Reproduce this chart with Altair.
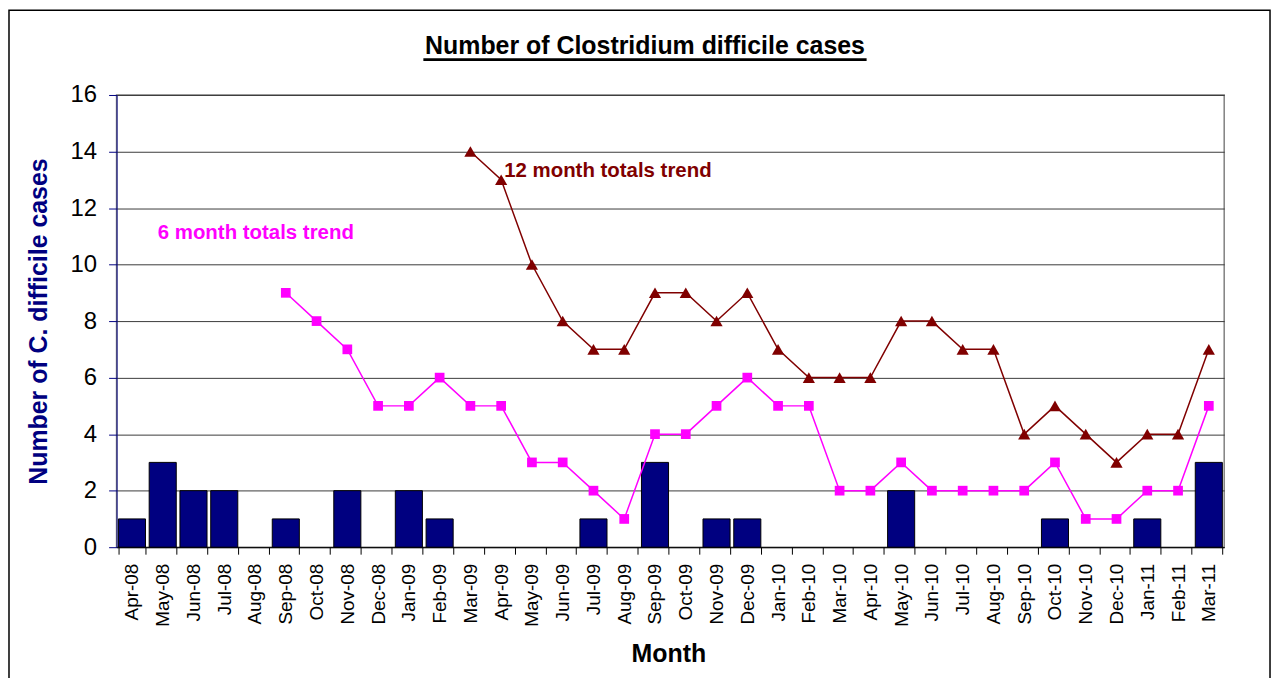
import altair as alt
import pandas as pd

months = ["Apr-08","May-08","Jun-08","Jul-08","Aug-08","Sep-08","Oct-08","Nov-08","Dec-08",
          "Jan-09","Feb-09","Mar-09","Apr-09","May-09","Jun-09","Jul-09","Aug-09","Sep-09",
          "Oct-09","Nov-09","Dec-09","Jan-10","Feb-10","Mar-10","Apr-10","May-10","Jun-10",
          "Jul-10","Aug-10","Sep-10","Oct-10","Nov-10","Dec-10","Jan-11","Feb-11","Mar-11"]
cases = [1,3,2,2,0,1,0,2,0,2,1,0,0,0,0,1,0,3,0,1,1,0,0,0,0,2,0,0,0,0,1,0,0,1,0,3]

six_months = months[5:]
six_totals = [9,8,7,5,5,6,5,5,3,3,2,1,4,4,5,6,5,5,2,2,3,2,2,2,2,3,1,1,2,2,5]

twelve_months = months[11:]
twelve_totals = [14,13,10,8,7,7,9,9,8,9,7,6,6,6,8,8,7,7,4,5,4,3,4,4,7]

W, H = 1112, 454
FONT = "Liberation Sans"

bars_df = pd.DataFrame({"Month": months, "Cases": cases})
six_df = pd.DataFrame({"Month": six_months, "Value": six_totals})
twelve_df = pd.DataFrame({"Month": twelve_months, "Value": twelve_totals})

xscale = alt.Scale(domain=months, paddingInner=0.12, paddingOuter=0.06)
yscale = alt.Scale(domain=[0, 16], nice=False)

xenc = alt.X("Month:N", sort=months, scale=xscale,
             axis=alt.Axis(title="Month", labelAngle=-90, labelFont=FONT, labelFontSize=19,
                           labelColor="black", labelPadding=9, labelAlign="right",
                           labelBaseline="middle",
                           tickBand="extent", tickSize=7, tickColor="black",
                           domainColor="black", titleFont=FONT, titleFontSize=25,
                           titleFontWeight="bold", titleColor="black",
                           titleX=554, titleY=115, titleBaseline="alphabetic", grid=False))

yaxis = alt.Axis(title="Number of C. difficile cases", values=list(range(0, 17, 2)),
                 labelFont=FONT, labelFontSize=24, labelColor="black", labelPadding=12,
                 tickSize=8, tickColor="#000080", domainColor="#000080",
                 gridColor="#3a3a3a", gridWidth=1,
                 titleFont=FONT, titleFontSize=25, titleFontWeight="bold",
                 titleColor="#000080", titleX=-70, titleY=H / 2, titleBaseline="alphabetic")

bars = alt.Chart(bars_df).transform_filter("datum.Cases > 0").mark_bar(
    color="#000080", stroke="black", strokeWidth=1).encode(
    x=xenc,
    y=alt.Y("Cases:Q", scale=yscale, axis=yaxis),
)

def xe():
    return alt.X("Month:N", sort=months, scale=xscale)

six_line = alt.Chart(six_df).mark_line(color="#FF00FF", strokeWidth=1.5).encode(
    x=xe(), y=alt.Y("Value:Q", scale=yscale))
six_pts = alt.Chart(six_df).mark_point(shape="square", filled=True, color="#FF00FF",
                                       size=95, opacity=1).encode(
    x=xe(), y=alt.Y("Value:Q", scale=yscale))

twelve_line = alt.Chart(twelve_df).mark_line(color="#800000", strokeWidth=1.5).encode(
    x=xe(), y=alt.Y("Value:Q", scale=yscale))
twelve_pts = alt.Chart(twelve_df).mark_point(shape="triangle-up", filled=True, color="#800000",
                                             size=150, opacity=1).encode(
    x=xe(), y=alt.Y("Value:Q", scale=yscale))

lbl12 = alt.Chart(pd.DataFrame({"Month": ["Apr-09"], "Value": [13.11],
                                "t": ["12 month totals trend"]})).mark_text(
    align="left", baseline="alphabetic", font=FONT, fontSize=20.5,
    fontWeight="bold", color="#800000", dx=3).encode(
    x=xe(), y=alt.Y("Value:Q", scale=yscale), text="t:N")
lbl6 = alt.Chart(pd.DataFrame({"Month": ["May-08"], "Value": [10.91],
                               "t": ["6 month totals trend"]})).mark_text(
    align="left", baseline="alphabetic", font=FONT, fontSize=20.5,
    fontWeight="bold", color="#FF00FF", dx=-5).encode(
    x=xe(), y=alt.Y("Value:Q", scale=yscale), text="t:N")

title_text = alt.Chart(pd.DataFrame({"t": ["Number of Clostridium difficile cases"]})).mark_text(
    align="center", baseline="alphabetic", font=FONT, fontSize=25, fontWeight="bold",
    color="black").encode(x=alt.value(530.5), y=alt.value(-41), text="t:N")
title_ul = alt.Chart(pd.DataFrame({"a": [0]})).mark_rule(color="black", strokeWidth=3).encode(
    x=alt.value(308), x2=alt.value(753), y=alt.value(-35.5))

frame = alt.Chart(pd.DataFrame({"a": [0]})).mark_rect(fill=None, stroke="black",
                                                      strokeWidth=1.5, clip=False).encode(
    x=alt.value(-108), x2=alt.value(1158), y=alt.value(-85), y2=alt.value(620))

chart = alt.layer(frame, bars, six_line, six_pts, twelve_line, twelve_pts, lbl12, lbl6,
                  title_text, title_ul).properties(
    width=W, height=H,
    autosize=alt.AutoSizeParams(type="none"),
    padding={"left": 109, "top": 86, "right": 50, "bottom": 130},
).configure_view(stroke="#808080", strokeWidth=1.5).configure_axisY(grid=True)

chart.save("out.html", embed_options={"renderer": "svg", "actions": False})
